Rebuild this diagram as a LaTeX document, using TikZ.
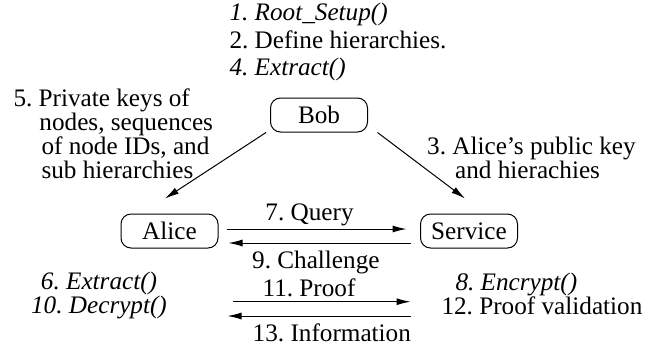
\documentclass[tikz,border=0pt]{standalone}
\usepackage{fontspec}
\setmainfont{Liberation Serif}
\usetikzlibrary{arrows.meta}
\frenchspacing
\begin{document}
\begin{tikzpicture}[
    x=0.5pt, y=-0.5pt,
    line width=0.5pt,
    every node/.style={font=\fontsize{12.6pt}{12pt}\selectfont, inner sep=0pt},
    party/.style={draw, rounded corners=5pt, minimum width=48.5pt, minimum height=17pt},
    msg/.style={-{Latex[length=7pt,width=3.5pt]}},
    note/.style={align=left}
]
  \useasboundingbox (0,0) rectangle (647,349);
  \node[party] (bob) at (319,115) {Bob};
  \node[party] (alice) at (169.5,231) {Alice};
  \node[party] (service) at (469,231) {Service};

  % multi-line notes sit on the baseline of their last line
  \node[note, anchor=base west, font=\fontsize{12.6pt}{13.75pt}\selectfont] 
    (setup) at (229,75.5) 
    {\textit{1. Root\_Setup()}\\2. Define hierarchies.\\\textit{4. Extract()}};
  \node[note, anchor=base west] (keys) at (13,178) 
    {5. Private keys of\\\hspace*{13pt}nodes, sequences\\\hspace*{14pt}of node IDs, and\\\hspace*{14pt}sub hierarchies};
  \node[note, anchor=base west] (pubkey) at (426.7,178) 
    {3. Alice's public key\\\hspace*{14pt}and hierachies};
  \node[align=center, anchor=base] (alicesteps) at (99,313) 
    {\textit{6. Extract()}\\\textit{10. Decrypt()}};
  \node[note, anchor=base west] (servicesteps) at (441,314) 
    {\hspace*{7pt}\textit{8. Encrypt()}\\12. Proof validation};

  \draw[msg] ([xshift=-2pt]bob.south west) 
    -- ([xshift=-2.25pt,yshift=7.5pt]alice.north);
  \draw[msg] ([xshift=4.75pt]bob.south east) 
    -- ([xshift=-2pt,yshift=7.5pt]service.north);
  \draw[msg] ([xshift=4.25pt,yshift=1pt]alice.east) 
    -- node[pos=.46,anchor=base,yshift=4.5pt] {7. Query} 
    ([xshift=-6.75pt,yshift=1pt]service.west);
  \draw[msg] ([xshift=-4.75pt,yshift=-6pt]service.west) 
    -- node[pos=.52,anchor=base,yshift=-12.5pt] {9. Challenge} 
    ([xshift=5pt,yshift=-6pt]alice.east);
  \draw[msg] ([xshift=7pt,yshift=-35.35pt]alice.east) 
    -- node[pos=.43,anchor=base,yshift=2.85pt] {11. Proof} 
    ([xshift=-4.75pt,yshift=-35.35pt]service.west);
  \draw[msg] ([xshift=-4.75pt,yshift=-42.5pt]service.west) 
    -- node[pos=.43,anchor=base,yshift=-12.85pt] {13. Information} 
    ([xshift=4.5pt,yshift=-42.5pt]alice.east);
\end{tikzpicture}
\end{document}
